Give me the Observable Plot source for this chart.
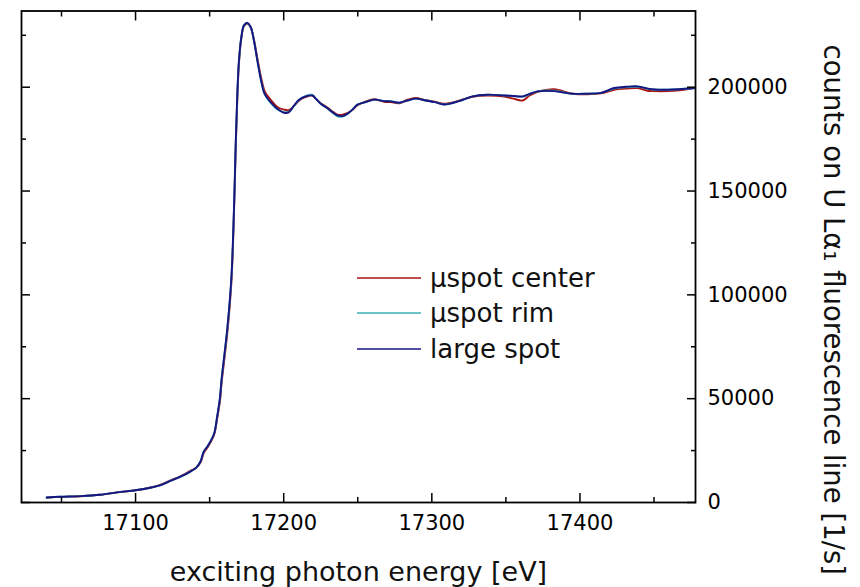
<!DOCTYPE html>
<html>
<head>
<meta charset="utf-8">
<script src="https://cdn.jsdelivr.net/npm/d3@7"></script>
<script src="https://cdn.jsdelivr.net/npm/@observablehq/plot@0.6"></script>
<style>
  html, body { margin: 0; padding: 0; background: #fff; }
  #wrap { position: relative; width: 860px; height: 587px; font-family: "DejaVu Sans", Verdana, sans-serif; }
  #legend { position: absolute; left: 357px; top: 260px; font-size: 26px; color: #111; }
  #legend .row { display: flex; align-items: center; height: 35.5px; }
  #legend svg { width: 64px; height: 4px; margin-right: 9px; }
</style>
</head>
<body>
<div id="wrap"></div>
<script>
// photon energy [eV]
const energy = [17040, 17049, 17063, 17076, 17090, 17100, 17110, 17117, 17124, 17130, 17137, 17141, 17144, 17146, 17149, 17153, 17155, 17157, 17158, 17162, 17164.7, 17166.4, 17167.6, 17168.7, 17169.8, 17171.4, 17173.2, 17175.5, 17177.7, 17179.9, 17182.2, 17184.5, 17186.7, 17188, 17191.2, 17195.7, 17200.2, 17203.6, 17207, 17210.3, 17214.9, 17219.4, 17221.6, 17225, 17229.5, 17232.9, 17236.3, 17239.7, 17243, 17246.4, 17249.8, 17255.4, 17261, 17267.8, 17272.3, 17277.9, 17283.6, 17289.2, 17296, 17302, 17308.3, 17318.4, 17327.5, 17337.6, 17348.9, 17355, 17361.3, 17366, 17371.4, 17382.6, 17393.9, 17405.2, 17414.2, 17423.2, 17431, 17439, 17445.7, 17450.2, 17459.3, 17467, 17477.2];

// counts [1/s]
const spotCenter = [2300, 2700, 3000, 3700, 5100, 5900, 7200, 8600, 10800, 12500, 15200, 16800, 19500, 23800, 27000, 32500, 40000, 49000, 57000, 82000, 106000, 138000, 170000, 194500, 211500, 223500, 229500, 230500, 228800, 223000, 214000, 205500, 199000, 197000, 194000, 190500, 189200, 189000, 191000, 193500, 195300, 196000, 194500, 192300, 190200, 188300, 186800, 186800, 187500, 189000, 191300, 193200, 194200, 193000, 192800, 192300, 194000, 194800, 193700, 193000, 192000, 193500, 195400, 196000, 195500, 194500, 193600, 196000, 197800, 199000, 197000, 196600, 197000, 198800, 199300, 199600, 198300, 198100, 198100, 198500, 199600];

const spotRim = [2400, 2750, 3050, 3700, 5100, 5900, 7100, 8400, 10600, 12300, 14900, 16800, 20000, 24500, 27500, 33100, 41000, 50500, 58800, 84000, 108000, 140000, 172000, 196500, 212500, 224000, 229800, 230800, 229000, 222500, 213000, 204000, 197500, 195500, 192500, 189300, 188000, 188200, 191000, 193800, 195800, 196300, 194500, 192000, 189800, 187800, 186000, 185800, 187000, 189200, 191600, 192800, 194000, 193400, 193300, 192500, 193600, 194500, 193600, 192800, 191700, 193300, 195600, 196400, 196000, 195800, 195400, 196700, 198000, 198300, 196900, 196900, 197300, 199400, 200000, 200200, 199300, 198900, 198800, 199000, 199600];

const largeSpot = [2400, 2750, 3050, 3700, 5100, 5900, 7100, 8400, 10500, 12300, 14900, 16800, 20000, 24500, 27500, 33100, 41000, 50500, 58800, 84400, 108500, 140700, 172800, 196900, 212900, 224100, 229800, 231000, 229000, 222500, 212900, 204000, 197500, 195800, 192800, 189600, 187700, 188000, 191200, 194000, 195600, 196000, 194500, 192000, 189900, 188000, 186400, 186100, 187200, 189200, 191600, 192800, 194000, 193300, 193200, 192500, 193600, 194500, 193600, 192800, 191700, 193300, 195600, 196400, 196000, 195800, 195600, 196800, 198000, 198100, 196900, 196900, 197300, 199600, 200200, 200400, 199300, 198900, 198800, 199000, 199600];

const seriesNames = ["\u03bcspot center", "\u03bcspot rim", "large spot"];
const seriesColors = ["#aa1414", "#3cb0b0", "#161682"];

const xMajorTicks = [17100, 17200, 17300, 17400];
const xMinorTicks = [17050, 17150, 17250, 17350, 17450];
const yMajorTicks = [0, 50000, 100000, 150000, 200000];
const yMinorTicks = [25000, 75000, 125000, 175000, 225000];

const xTitle = "exciting photon energy [eV]";
const yTitle = "counts on U L\u03b1\u2081 fluorescence line [1/s]";

const seriesValues = [spotCenter, spotRim, largeSpot];
const rows = seriesValues.map((vals, s) => energy.map((e, i) => ({E: e, C: vals[i], series: seriesNames[s]})));

const fmt = d3.format("d");
const blank = () => "";

const chart = Plot.plot({
  width: 860,
  height: 587,
  marginLeft: 21,
  marginRight: 165,
  marginTop: 10.5,
  marginBottom: 85,
  style: {fontFamily: "DejaVu Sans, Verdana, sans-serif", fontSize: "21px", background: "#fff", color: "#000"},
  x: {domain: [17023, 17478], label: null},
  y: {domain: [0, 236700], label: null},
  marks: [
    ...rows.map((r, s) => Plot.line(r, {x: "E", y: "C", stroke: seriesColors[s], strokeWidth: 1.9, curve: "catmull-rom"})),
    Plot.axisX(xMajorTicks, {anchor: "bottom", tickSize: -9, tickPadding: 22, tickFormat: fmt, fontSize: 21, strokeWidth: 1.5, label: null}),
    Plot.axisX(xMinorTicks, {anchor: "bottom", tickSize: -5, tickFormat: blank, strokeWidth: 1.5, label: null}),
    Plot.axisX(xMajorTicks, {anchor: "top", tickSize: -9, tickFormat: blank, strokeWidth: 1.5, label: null}),
    Plot.axisX(xMinorTicks, {anchor: "top", tickSize: -5, tickFormat: blank, strokeWidth: 1.5, label: null}),
    Plot.axisY(yMajorTicks, {anchor: "right", tickSize: -9, tickPadding: 21, tickFormat: fmt, fontSize: 21, strokeWidth: 1.5, label: null}),
    Plot.axisY(yMinorTicks, {anchor: "right", tickSize: -5, tickFormat: blank, strokeWidth: 1.5, label: null}),
    Plot.axisY(yMajorTicks, {anchor: "left", tickSize: -9, tickFormat: blank, strokeWidth: 1.5, label: null}),
    Plot.axisY(yMinorTicks, {anchor: "left", tickSize: -5, tickFormat: blank, strokeWidth: 1.5, label: null}),
    Plot.frame({stroke: "#000", strokeWidth: 1.8}),
    Plot.text([xTitle], {frameAnchor: "bottom", textAnchor: "middle", dy: 70, fontSize: 27, lineAnchor: "middle", fill: "#111"}),
    Plot.text([yTitle], {frameAnchor: "right", textAnchor: "middle", rotate: 90, dx: 137, dy: 53, fontSize: 27.5, lineAnchor: "middle", fill: "#111"})
  ]
});

const wrap = document.getElementById("wrap");
wrap.appendChild(chart);

// legend
const legend = document.createElement("div");
legend.id = "legend";
seriesNames.forEach((name, i) => {
  const row = document.createElement("div");
  row.className = "row";
  row.innerHTML = `<svg viewBox="0 0 64 4"><line x1="0" y1="2" x2="64" y2="2" stroke="${seriesColors[i]}" stroke-width="1.7"/></svg><span>${name}</span>`;
  legend.appendChild(row);
});
wrap.appendChild(legend);
</script>
</body>
</html>
